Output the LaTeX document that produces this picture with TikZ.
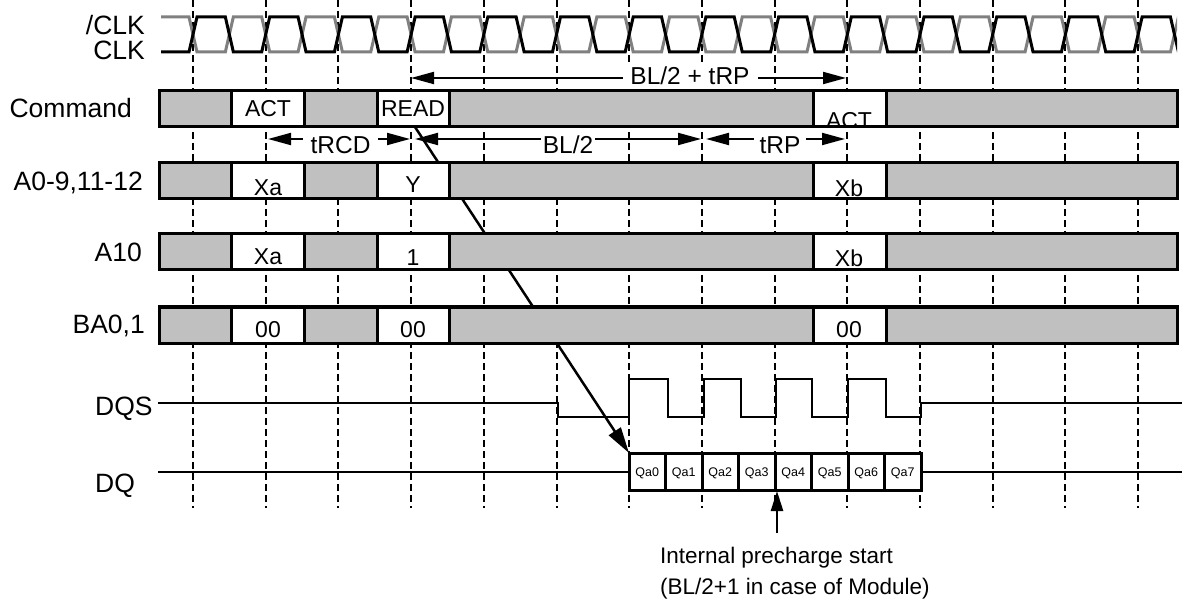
\documentclass[tikz,border=0pt]{standalone}
\usepackage{fontspec}
\setmainfont{Liberation Sans}
\usetikzlibrary{arrows.meta}
\definecolor{boxgrey}{RGB}{192,192,192}
\definecolor{clkgrey}{RGB}{128,128,128}
\begin{document}
\begin{tikzpicture}[x=1pt,y=-1pt,
  lbl/.style={font=\fontsize{26.5}{30}\selectfont, inner sep=0pt},
  boxtxt/.style={font=\fontsize{23}{26}\selectfont, inner sep=0pt},
  qtxt/.style={font=\fontsize{12.5}{14}\selectfont, inner sep=0pt},
  notetxt/.style={font=\fontsize{22.5}{26}\selectfont, inner sep=0pt},
  gridline/.style={line width=2pt, dash pattern=on 7pt off 4pt},
  segbox/.style={line width=3pt},
  greyseg/.style={segbox, fill=boxgrey},
  whiteseg/.style={segbox, fill=white},
  clkline/.style={line width=3pt},
  dimarrow/.style={line width=2pt, {Triangle[length=23pt,width=12pt]}-{Triangle[length=23pt,width=12pt]}},
  dimlbl/.style={font=\fontsize{24.5}{27}\selectfont, fill=white, inner sep=0pt},
  bigarrow/.style={line width=2.5pt, -{Triangle[length=26pt,width=14pt]}},
]
\fill[white] (0,0) rectangle (1182,609);
\useasboundingbox (0,0) rectangle (1182,609);

% clock-edge grid lines
\foreach \k in {0,...,13}
  \draw[gridline] ({193+72.7*\k},0) -- ({193+72.7*\k},508);

% clocks
\begin{scope}
  \clip (150,0) rectangle (1177,70);
  \draw[clkline, clkgrey] (161,17) \foreach \k in {0,...,13} {
     -- ({189+72.7*\k},17) -- ({197+72.7*\k},52)
     -- ({225.35+72.7*\k},52) -- ({233.35+72.7*\k},17) };
  \draw[clkline, black] (161,52) \foreach \k in {0,...,13} {
     -- ({189+72.7*\k},52) -- ({197+72.7*\k},17)
     -- ({225.35+72.7*\k},17) -- ({233.35+72.7*\k},52) };
\end{scope}

% signal names
\node[lbl, anchor=base east] (nclk) at (145,35) {/CLK};
\node[lbl, anchor=base east] (clk) at (145,60) {CLK};
\node[lbl, anchor=base east] (cmd) at (132,118) {Command};
\node[lbl, anchor=base east] (addr) at (143,191) {A0-9,11-12};
\node[lbl, anchor=base east] (a10) at (142,262) {A10};
\node[lbl, anchor=base east] (ba) at (145,333) {BA0,1};
\node[lbl, anchor=base west] (dqs) at (95,415) {DQS};
\node[lbl, anchor=base west] (dq) at (95,492) {DQ};

% READ to first data arrow (under the rows)
\coordinate (rdstart) at (415,127);
\coordinate (dqfirst) at (629,453);
\draw[bigarrow] (rdstart) -- (dqfirst);

% command / address rows
\foreach \yt/\yb in {91/127, 163/199, 234/270, 307/343} {
  \draw[greyseg]  (159,\yt)   rectangle (231.7,\yb);
  \draw[whiteseg] (231.7,\yt) rectangle (304.4,\yb);
  \draw[greyseg]  (304.4,\yt) rectangle (377.1,\yb);
  \draw[whiteseg] (377.1,\yt) rectangle (449.8,\yb);
  \draw[greyseg]  (449.8,\yt) rectangle (813.3,\yb);
  \draw[whiteseg] (813.3,\yt) rectangle (886,\yb);
  \draw[greyseg]  (886,\yt)   rectangle (1177,\yb);
}
\node[boxtxt] (act1) at (268,109) {ACT};
\node[boxtxt] (read) at (413,109) {READ};
\begin{scope}
  \clip (814.8,92.5) rectangle (884.5,125.5);
  \node[boxtxt] (act2) at (849,120.5) {ACT};
\end{scope}
\node[boxtxt] (xa1) at (268,187.5) {Xa};
\node[boxtxt] (y1) at (413,185) {Y};
\node[boxtxt] (xb1) at (849,188) {Xb};
\node[boxtxt] (xa2) at (268,256.5) {Xa};
\node[boxtxt] (one) at (413,257.5) {1};
\node[boxtxt] (xb2) at (849,258) {Xb};
\node[boxtxt] (ba1) at (268,330) {00};
\node[boxtxt] (ba2) at (413,330) {00};
\node[boxtxt] (ba3) at (849,330) {00};

% timing dimensions
\coordinate (bt1) at (411,78);
\coordinate (bt2) at (846,78);
\draw[dimarrow] (bt1) -- (bt2);
\node[dimlbl, minimum width=135pt, minimum height=27pt] (bltrp) at (690,75.5) {BL/2 + tRP};

\coordinate (rc1) at (268,139);
\coordinate (rc2) at (410,139);
\draw[dimarrow] (rc1) -- (rc2);
\node[dimlbl, minimum width=75pt, minimum height=33pt] (trcd) at (340.5,145) {tRCD};

\coordinate (bl1) at (415,139);
\coordinate (bl2) at (701,139);
\draw[dimarrow] (bl1) -- (bl2);
\node[dimlbl, minimum width=54pt, minimum height=33pt] (bl) at (568,145) {BL/2};

\coordinate (rp1) at (706,139);
\coordinate (rp2) at (845,139);
\draw[dimarrow] (rp1) -- (rp2);
\node[dimlbl, minimum width=52pt, minimum height=33pt] (trp) at (780,145) {tRP};

% DQS
\draw[line width=2pt] (158,403) -- (558,403) -- (558,417) -- (629,417) -- (629,379)
  -- (668,379) -- (668,417) -- (704,417) -- (704,379) -- (741,379) -- (741,417)
  -- (776,417) -- (776,379) -- (812,379) -- (812,417) -- (848,417) -- (848,379)
  -- (886,379) -- (886,417) -- (921,417) -- (921,403) -- (1182,403);

% DQ
\draw[line width=2pt] (158,472) -- (629,472);
\draw[line width=2pt] (921,472) -- (1182,472);
\foreach \i in {0,...,7} {
  \draw[whiteseg] ({629+36.5*\i},453) rectangle ({629+36.5*(\i+1)},490);
  \node[qtxt] (qa\i) at ({647.25+36.5*\i},473) {Qa\i};
}

% internal precharge
\coordinate (ipfoot) at (777,533);
\coordinate (ipTip) at (777,491);
\draw[line width=2.5pt, -{Triangle[length=20pt,width=12pt]}] (ipfoot) -- (ipTip);
\node[notetxt, anchor=base west] (ip1) at (660,563) {Internal precharge start};
\node[notetxt, anchor=base west] (ip2) at (660,594) {(BL/2+1 in case of Module)};
\end{tikzpicture}
\end{document}
